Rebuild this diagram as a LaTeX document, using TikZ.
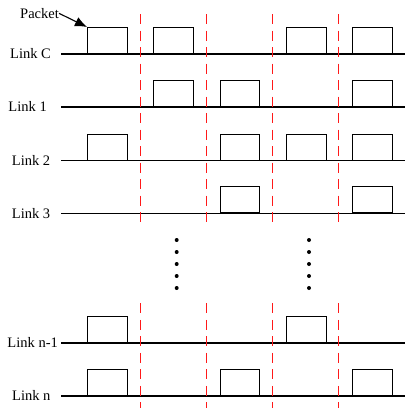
\documentclass[tikz,border=0pt]{standalone}
\usepackage{fontspec}
\setmainfont{Liberation Serif}
\usetikzlibrary{arrows.meta}
\begin{document}
\begin{tikzpicture}[x=1pt,y=-1pt,
  link/.style={line width=1.1pt,black},
  pkt/.style={draw,line width=1pt,minimum width=39.7pt,minimum height=26pt,inner sep=0pt,anchor=south west},
  slot/.style={red!90!white,line width=1.3pt,dash pattern=on 10pt off 6.5pt},
  lbl/.style={inner sep=0pt,anchor=base west,font=\fontsize{14.5}{16}\selectfont},
  dotm/.style={fill=black}]
\useasboundingbox (0,0) rectangle (405,408);
% links
\foreach \n/\y in {C/54,1/107,2/160.7,3/213.3,m/343,n/396}{
  \coordinate (s\n) at (61,\y);
  \coordinate (e\n) at (405,\y);
  \draw[link] (s\n) -- (e\n);
}
% labels
\node[lbl] (lC) at (10,58.7) {Link C};
\node[lbl] (l1) at (8.3,111.7) {Link 1};
\node[lbl] (l2) at (11.7,165.4) {Link 2};
\node[lbl] (l3) at (11.7,218) {Link 3};
\node[lbl] (lm) at (7.3,347.7) {Link n-1};
\node[lbl] (ln) at (12,400.7) {Link n};
% packets
\foreach \n/\y/\slots in {C/54/{1,2,4,5},1/107/{2,3,5},2/160.7/{1,3,4,5},3/213.3/{3,5},m/343/{1,4},n/396/{1,3,5}}{
  \foreach \k in \slots {
    \node[pkt] (p\n\k) at ({87+66.3*(\k-1)},\y) {};
  }
}
% slot boundaries
\foreach \i/\x in {1/140.3,2/206.7,3/272.7,4/338.7}{
  \coordinate (ta\i) at (\x,14);
  \coordinate (tb\i) at (\x,227);
  \coordinate (ba\i) at (\x,303.3);
  \coordinate (bb\i) at (\x,408);
  \draw[slot] (ta\i) -- (tb\i);
  \draw[slot] (ba\i) -- (bb\i);
}
% vertical ellipses
\foreach \c/\x in {a/176.7,b/309}{
  \foreach \j in {0,...,4}{
    \fill[dotm] (\x,{240+12*\j}) circle (2pt);
  }
}
% packet label
\node[lbl] (pk) at (20,18.3) {Packet};
\draw[line width=1.1pt,-{Latex[length=12pt,width=10pt]}] (pk.east) -- (pC1.north west);
\end{tikzpicture}
\end{document}
